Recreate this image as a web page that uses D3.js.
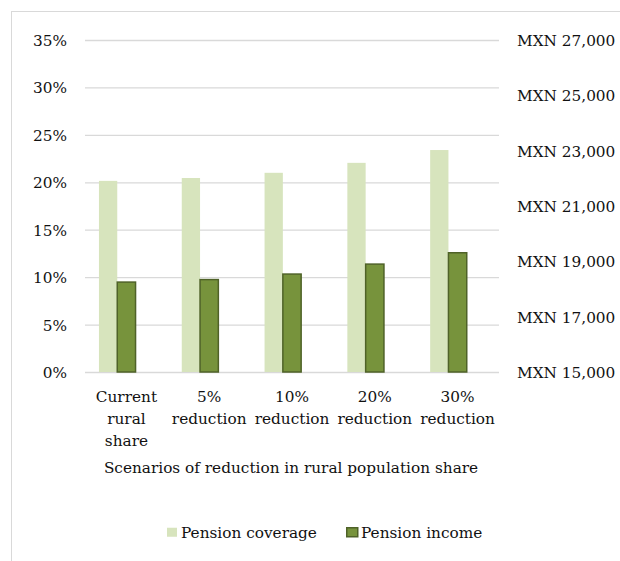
<!DOCTYPE html>
<html>
<head>
<meta charset="utf-8">
<script src="https://cdn.jsdelivr.net/npm/d3@7"></script>
<style>
  html, body { margin: 0; padding: 0; background: #fff; }
  svg { display: block; }
  text { font-family: "DejaVu Serif", serif; font-size: 15.3px; fill: #111; }
</style>
</head>
<body>
<svg id="chart" width="620" height="561"></svg>
<script>
// ---- Data ----
const categories = [
  ["Current", "rural", "share"],
  ["5%", "reduction"],
  ["10%", "reduction"],
  ["20%", "reduction"],
  ["30%", "reduction"]
];
const seriesNames = ["Pension coverage", "Pension income"];
const pensionCoverage = [0.2015, 0.2045, 0.210, 0.2205, 0.234];
const pensionIncome = [18250, 18340, 18540, 18900, 19310];
const leftTicks = [0, 0.05, 0.10, 0.15, 0.20, 0.25, 0.30, 0.35];
const rightTicks = [15000, 17000, 19000, 21000, 23000, 25000, 27000];
const xTitle = "Scenarios of reduction in rural population share";

// ---- Layout ----
const W = 620, H = 561;
const plot = { left: 85, right: 499, top: 40, bottom: 372 };
const colors = { coverage: "#d7e4bd", income: "#77933c", incomeStroke: "#4f6228", grid: "#d9d9d9", frame: "#d9d9d9" };

const svg = d3.select("#chart");

// outer chart frame (cropped on right and bottom)
svg.append("rect")
  .attr("x", 11.5).attr("y", 11.5)
  .attr("width", W + 20).attr("height", H + 20)
  .attr("fill", "none").attr("stroke", colors.frame).attr("stroke-width", 1);

const catKeys = categories.map(c => c.join(" "));
const x0 = d3.scaleBand().domain(catKeys).range([plot.left, plot.right]).padding(0);
// third (empty) slot reproduces the original's off-centre bar placement
const x1 = d3.scaleBand().domain([...seriesNames, "(blank)"]).range([0, x0.bandwidth()]).paddingInner(0).paddingOuter(0.763);
const yL = d3.scaleLinear().domain([0, 0.35]).range([plot.bottom, plot.top]);
const yR = d3.scaleLinear().domain([15000, 27000]).range([plot.bottom, plot.top]);

// gridlines
const gridAxis = d3.axisLeft(yL).tickValues(leftTicks).tickSize(-(plot.right - plot.left)).tickFormat("");
const gg = svg.append("g").attr("transform", `translate(${plot.left},0)`).call(gridAxis);
gg.select(".domain").remove();
gg.selectAll("line").attr("stroke", colors.grid).attr("stroke-width", 1.3);

// left axis labels
const la = svg.append("g").attr("transform", `translate(${plot.left - 18},0)`)
  .call(d3.axisLeft(yL).tickValues(leftTicks).tickSize(0).tickPadding(0).tickFormat(d3.format(".0%")));
la.select(".domain").remove();
la.selectAll("text").attr("font-family", null).attr("font-size", null).attr("fill", null).attr("dy", "0.36em");

// right axis labels
const ra = svg.append("g").attr("transform", `translate(${plot.right + 18},0)`)
  .call(d3.axisRight(yR).tickValues(rightTicks).tickSize(0).tickPadding(0).tickFormat(d => "MXN " + d3.format(",")(d)));
ra.select(".domain").remove();
ra.selectAll("text").attr("font-family", null).attr("font-size", null).attr("fill", null).attr("dy", "0.36em");

// bars
const groups = svg.append("g").selectAll("g").data(catKeys).join("g")
  .attr("transform", d => `translate(${x0(d)},0)`);

groups.append("rect")
  .attr("x", x1(seriesNames[0]))
  .attr("width", x1.bandwidth())
  .attr("y", (d, i) => yL(pensionCoverage[i]))
  .attr("height", (d, i) => plot.bottom - yL(pensionCoverage[i]))
  .attr("fill", colors.coverage);

groups.append("rect")
  .attr("x", x1(seriesNames[1]))
  .attr("width", x1.bandwidth())
  .attr("y", (d, i) => yR(pensionIncome[i]))
  .attr("height", (d, i) => plot.bottom - yR(pensionIncome[i]))
  .attr("fill", colors.income)
  .attr("stroke", colors.incomeStroke).attr("stroke-width", 1.5);

// category labels
const lineH = 22;
groups.append("text")
  .attr("text-anchor", "middle")
  .attr("transform", `translate(${x0.bandwidth() / 2},${396})`)
  .selectAll("tspan")
  .data((d, i) => categories[i])
  .join("tspan")
  .attr("x", 0)
  .attr("y", (d, j) => j * lineH)
  .attr("dy", "0.36em")
  .text(d => d);

// x axis title
svg.append("text")
  .attr("x", (plot.left + plot.right) / 2 - 1)
  .attr("y", 467).attr("dy", "0.36em")
  .attr("text-anchor", "middle")
  .text(xTitle);

// legend
const legendItems = [
  { name: seriesNames[0], fill: colors.coverage, stroke: "none", x: 167 },
  { name: seriesNames[1], fill: colors.income, stroke: colors.incomeStroke, x: 346 }
];
const lg = svg.append("g").selectAll("g").data(legendItems).join("g")
  .attr("transform", d => `translate(${d.x},${527})`);
lg.append("rect")
  .attr("x", d => d.stroke === "none" ? 0 : 0.75)
  .attr("y", 0.75)
  .attr("width", d => d.stroke === "none" ? 10 : 11)
  .attr("height", 9)
  .attr("fill", d => d.fill)
  .attr("stroke", d => d.stroke).attr("stroke-width", 1.5);
lg.append("text")
  .attr("x", d => d.stroke === "none" ? 14 : 15)
  .attr("y", 5).attr("dy", "0.36em")
  .text(d => d.name);
</script>
</body>
</html>
